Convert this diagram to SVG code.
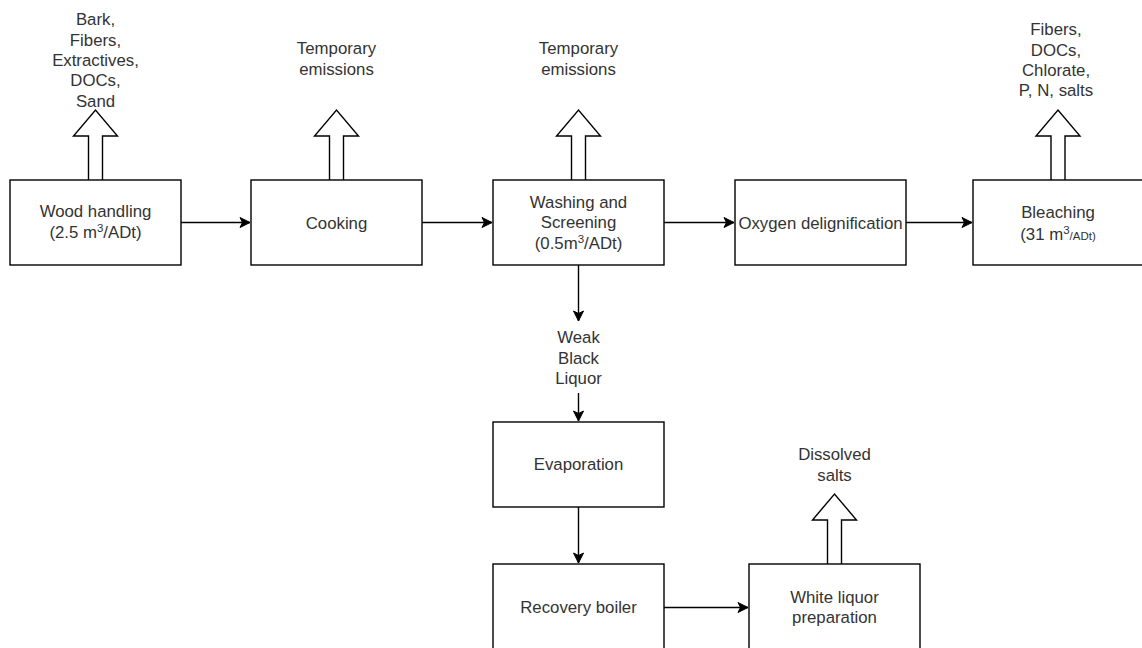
<svg xmlns="http://www.w3.org/2000/svg" width="1142" height="648" viewBox="0 0 1142 648">
<style>
.box{fill:#fff;stroke:#000;stroke-width:1.4}
.barrow{fill:#fff;stroke:#000;stroke-width:1.4;stroke-linejoin:miter}
.conn{fill:none;stroke:#000;stroke-width:1.4}
text{font-family:"Liberation Sans",Arial,Helvetica,sans-serif;font-size:16.8px;fill:#333;text-anchor:middle}
.sup{font-size:11.5px}
</style>
<defs>
<marker id="ah" markerUnits="userSpaceOnUse" markerWidth="11" markerHeight="11" refX="10" refY="5" orient="auto" overflow="visible">
<path d="M0,0 L10,5 L0,10 L2.5,5 Z" fill="#000" stroke="#000" stroke-width="1"/>
</marker>
<path id="ba" d="M-7,0 V-44 H-22 L0,-70 L22,-44 H7 V0"/>
</defs>
<rect width="1142" height="648" fill="#fff"/>

<g id="connectors">
<path class="conn" d="M181,222.5 H250" marker-end="url(#ah)"/>
<path class="conn" d="M422,222.5 H492" marker-end="url(#ah)"/>
<path class="conn" d="M664,222.5 H734" marker-end="url(#ah)"/>
<path class="conn" d="M906,222.5 H972" marker-end="url(#ah)"/>
<path class="conn" d="M578.5,265 V321" marker-end="url(#ah)"/>
<path class="conn" d="M578.5,393 V421" marker-end="url(#ah)"/>
<path class="conn" d="M578.5,507 V563" marker-end="url(#ah)"/>
<path class="conn" d="M664,607.5 H748" marker-end="url(#ah)"/>
</g>

<g id="wood-handling">
<use href="#ba" class="barrow" transform="translate(95.5,180)"/>
<rect class="box" x="10" y="180" width="171" height="85"/>
<text x="95.5" y="217">Wood handling</text>
<text x="95.5" y="237.5">(2.5 m<tspan class="sup" dy="-6">3</tspan><tspan dy="6">/ADt)</tspan></text>
</g>
<g id="wood-emissions">
<text x="95.5" y="25">Bark,</text>
<text x="95.5" y="45.5">Fibers,</text>
<text x="95.5" y="66">Extractives,</text>
<text x="95.5" y="86">DOCs,</text>
<text x="95.5" y="106.5">Sand</text>
</g>

<g id="cooking">
<use href="#ba" class="barrow" transform="translate(336.5,180)"/>
<rect class="box" x="251" y="180" width="171" height="85"/>
<text x="336.5" y="228.5">Cooking</text>
</g>
<g id="cooking-emissions">
<text x="336.5" y="54">Temporary</text>
<text x="336.5" y="74.5">emissions</text>
</g>

<g id="washing">
<use href="#ba" class="barrow" transform="translate(578.5,180)"/>
<rect class="box" x="493" y="180" width="171" height="85"/>
<text x="578.5" y="207.5">Washing and</text>
<text x="578.5" y="228">Screening</text>
<text x="578.5" y="249">(0.5m<tspan class="sup" dy="-6">3</tspan><tspan dy="6">/ADt)</tspan></text>
</g>
<g id="washing-emissions">
<text x="578.5" y="54">Temporary</text>
<text x="578.5" y="74.5">emissions</text>
</g>

<g id="oxygen">
<rect class="box" x="735" y="180" width="171" height="85"/>
<text x="820.5" y="228.5">Oxygen delignification</text>
</g>

<g id="bleaching">
<use href="#ba" class="barrow" transform="translate(1058,180)"/>
<rect class="box" x="973" y="180" width="171" height="85"/>
<text x="1058" y="218">Bleaching</text>
<text x="1058" y="240">(31 m<tspan class="sup" dy="-6">3</tspan><tspan class="sup" dy="6">/ADt)</tspan></text>
</g>
<g id="bleaching-emissions">
<text x="1056" y="35">Fibers,</text>
<text x="1056" y="55.5">DOCs,</text>
<text x="1056" y="76">Chlorate,</text>
<text x="1056" y="96">P, N, salts</text>
</g>

<g id="weak-black-liquor">
<text x="578.5" y="343">Weak</text>
<text x="578.5" y="363.5">Black</text>
<text x="578.5" y="384">Liquor</text>
</g>

<g id="evaporation">
<rect class="box" x="493" y="422" width="171" height="85"/>
<text x="578.5" y="470">Evaporation</text>
</g>

<g id="recovery-boiler">
<rect class="box" x="493" y="564" width="171" height="85"/>
<text x="578.5" y="612.5">Recovery boiler</text>
</g>

<g id="white-liquor">
<use href="#ba" class="barrow" transform="translate(834.5,564)"/>
<rect class="box" x="749" y="564" width="171" height="85"/>
<text x="834.5" y="602.5">White liquor</text>
<text x="834.5" y="623">preparation</text>
</g>
<g id="white-liquor-emissions">
<text x="834.5" y="460">Dissolved</text>
<text x="834.5" y="480.5">salts</text>
</g>
</svg>
